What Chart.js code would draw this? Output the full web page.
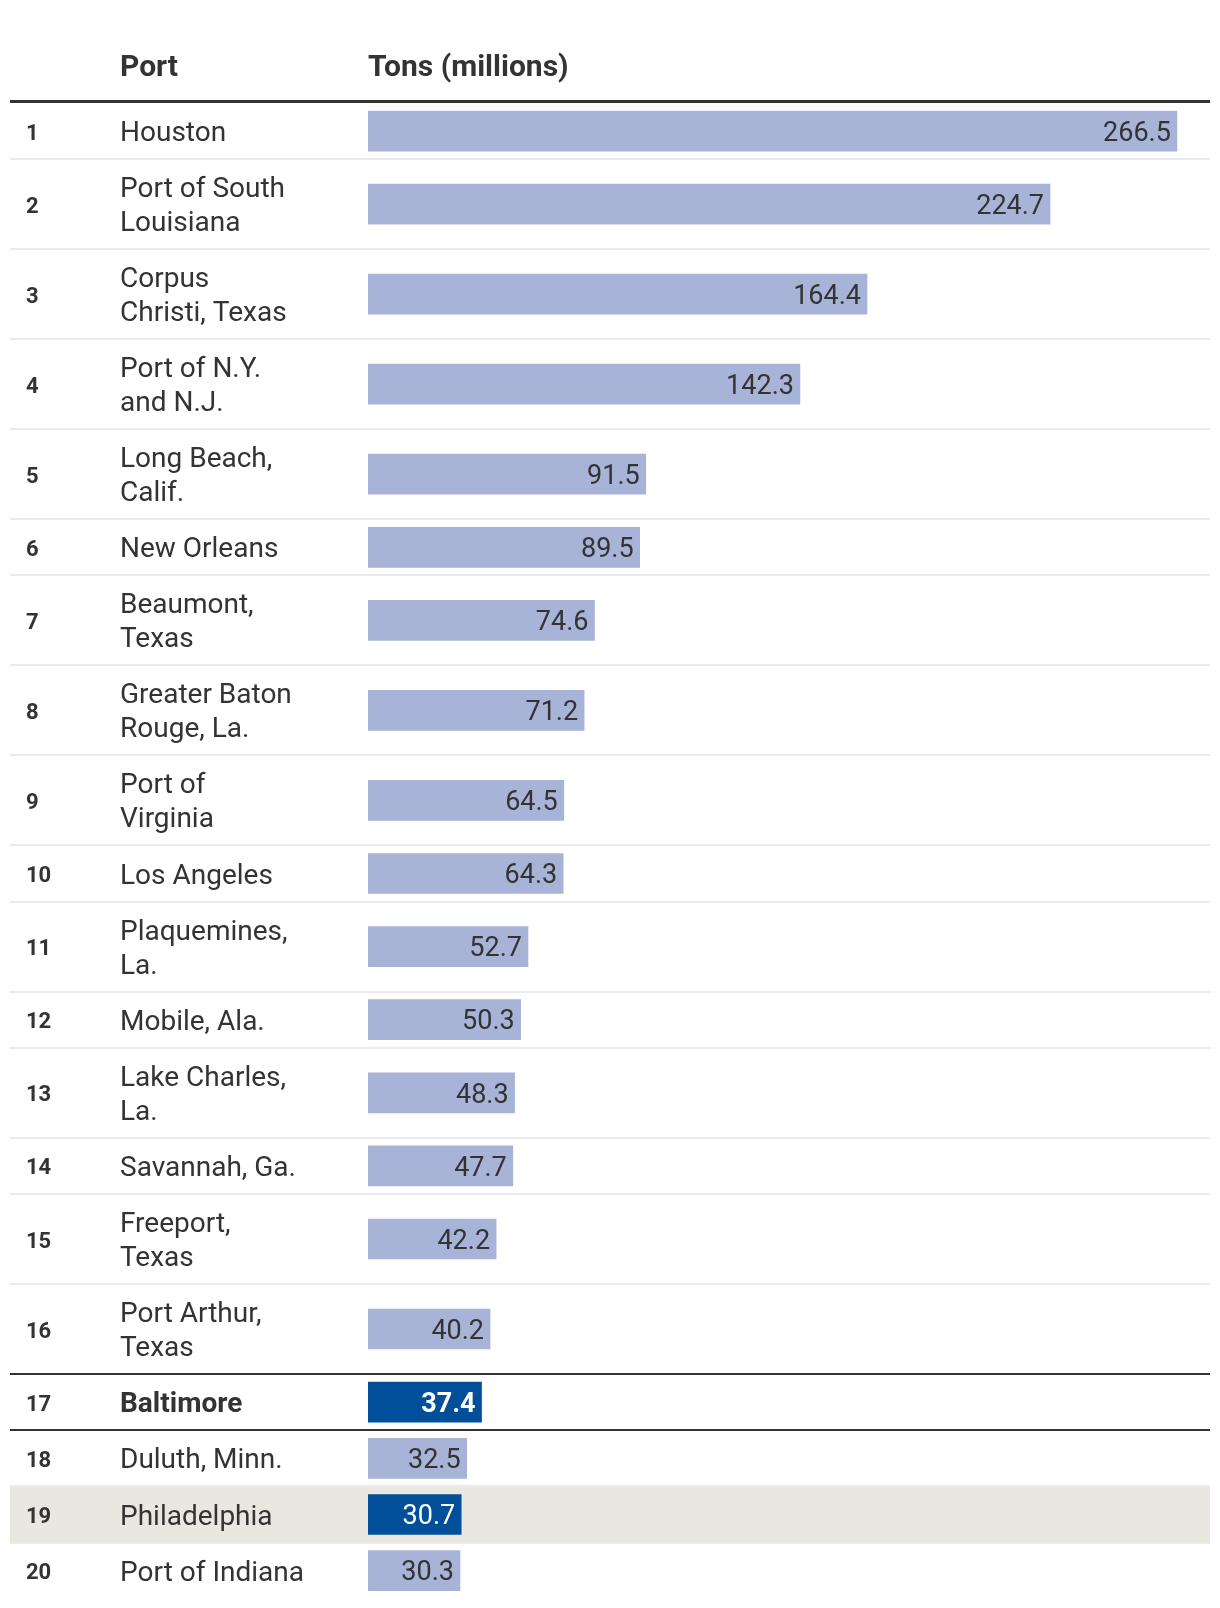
<!DOCTYPE html>
<html>
<head>
<meta charset="utf-8">
<script src="https://cdn.jsdelivr.net/npm/chart.js@4/dist/chart.umd.min.js"></script>
<style>
  html, body { margin: 0; padding: 0; background: #fff; }
  #wrap { width: 1220px; height: 1608px; }
</style>
</head>
<body>
<div id="wrap"><canvas id="chart" width="1220" height="1608"></canvas></div>
<script>
// Top 20 U.S. ports by tonnage

const ranks = [1, 2, 3, 4, 5, 6, 7, 8, 9, 10, 11, 12, 13, 14, 15, 16, 17, 18, 19, 20];
const portLines = [
  ['Houston'], ['Port of South', 'Louisiana'], ['Corpus', 'Christi, Texas'],
  ['Port of N.Y.', 'and N.J.'], ['Long Beach,', 'Calif.'], ['New Orleans'],
  ['Beaumont,', 'Texas'], ['Greater Baton', 'Rouge, La.'], ['Port of', 'Virginia'],
  ['Los Angeles'], ['Plaquemines,', 'La.'], ['Mobile, Ala.'], ['Lake Charles,', 'La.'],
  ['Savannah, Ga.'], ['Freeport,', 'Texas'], ['Port Arthur,', 'Texas'], ['Baltimore'],
  ['Duluth, Minn.'], ['Philadelphia'], ['Port of Indiana']
];
const tons = [266.5, 224.7, 164.4, 142.3, 91.5, 89.5, 74.6, 71.2, 64.5, 64.3,
  52.7, 50.3, 48.3, 47.7, 42.2, 40.2, 37.4, 32.5, 30.7, 30.3];
const headers = ['Port', 'Tons (millions)'];
const featuredPort = 'Baltimore';
const shadedPort = 'Philadelphia';

// Layout
const ROW_SINGLE = 56.2;
const ROW_DOUBLE = 90;
const LINE_GAP = 34;
const TEXT_NUDGE = 3; // Roboto's middle sits a little high
const TOP = 103;
const LEFT = 10;
const RIGHT = 1210;
const RANK_X = 26;
const NAME_X = 120;
const BAR_X = 368;

const LIGHT = '#a7b3d7';
const DARK = '#004f98';
const INK = '#333333';
const FONT = 'Roboto, "Liberation Sans", sans-serif';

// Row positions, built from how many lines each name takes
const rowHeights = portLines.map(l => l.length > 1 ? ROW_DOUBLE : ROW_SINGLE);
const rowTops = [];
let acc = 0;
rowHeights.forEach(h => { rowTops.push(acc); acc += h; });
const totalHeight = acc;
const rowCenters = rowTops.map((t, i) => t + rowHeights[i] / 2);
const names = portLines.map(l => l.join(' '));

const isDark = i => names[i] === featuredPort || names[i] === shadedPort;

const tablePlugin = {
  id: 'tablePlugin',
  beforeDatasetsDraw(chart) {
    const ctx = chart.ctx;
    const y = chart.scales.y;
    ctx.save();
    // shaded row
    names.forEach((n, i) => {
      if (n !== shadedPort) return;
      const top = Math.round(y.getPixelForValue(rowTops[i]));
      const bot = Math.round(y.getPixelForValue(rowTops[i] + rowHeights[i]));
      ctx.fillStyle = '#e9e8e0';
      ctx.fillRect(LEFT, top, RIGHT - LEFT, bot - top);
    });
    // separators
    for (let i = 1; i < names.length; i++) {
      const py = y.getPixelForValue(rowTops[i]);
      const dark = names[i] === featuredPort || names[i - 1] === featuredPort;
      ctx.fillStyle = dark ? INK : '#ebebeb';
      ctx.fillRect(LEFT, Math.round(py) - 1, RIGHT - LEFT, 2);
    }
    // header rule
    const top = y.getPixelForValue(0);
    ctx.fillStyle = INK;
    ctx.fillRect(LEFT, top - 3, RIGHT - LEFT, 3);
    ctx.restore();
  },
  afterDatasetsDraw(chart) {
    const ctx = chart.ctx;
    const y = chart.scales.y;
    const meta = chart.getDatasetMeta(0);
    ctx.save();
    ctx.textBaseline = 'middle';

    // header
    ctx.fillStyle = INK;
    ctx.font = 'bold 30px ' + FONT;
    ctx.textAlign = 'left';
    ctx.fillText(headers[0], NAME_X, 68);
    ctx.fillText(headers[1], BAR_X, 68);

    names.forEach((n, i) => {
      const cy = y.getPixelForValue(rowCenters[i]) + TEXT_NUDGE;
      const featured = n === featuredPort;

      ctx.fillStyle = INK;
      ctx.textAlign = 'left';
      ctx.font = 'bold 22px ' + FONT;
      ctx.fillText(String(ranks[i]), RANK_X, cy);

      ctx.font = (featured ? 'bold ' : '') + '28px ' + FONT;
      const lines = portLines[i];
      const start = cy - (lines.length - 1) * LINE_GAP / 2;
      lines.forEach((l, k) => ctx.fillText(l, NAME_X, start + k * LINE_GAP));

      const bar = meta.data[i];
      ctx.textAlign = 'right';
      ctx.fillStyle = isDark(i) ? '#ffffff' : INK;
      ctx.font = (featured ? 'bold ' : '') + '27px ' + FONT;
      ctx.fillText(tons[i].toFixed(1), bar.x - 6, bar.y + TEXT_NUDGE);
    });
    ctx.restore();
  }
};

new Chart(document.getElementById('chart'), {
  type: 'bar',
  data: {
    datasets: [{
      data: tons.map((v, i) => ({ x: v, y: rowCenters[i] })),
      backgroundColor: tons.map((v, i) => isDark(i) ? DARK : LIGHT),
      borderWidth: 0,
      barThickness: 40
    }]
  },
  options: {
    indexAxis: 'y',
    responsive: false,
    animation: false,
    layout: { padding: { left: BAR_X, right: 1220 - RIGHT, top: TOP, bottom: 1608 - TOP - totalHeight } },
    plugins: { legend: { display: false }, tooltip: { enabled: false } },
    scales: {
      x: { type: 'linear', min: 0, max: 277.4, display: false },
      y: { type: 'linear', min: 0, max: totalHeight, reverse: true, offset: false, display: false }
    }
  },
  plugins: [tablePlugin]
});
</script>
</body>
</html>
